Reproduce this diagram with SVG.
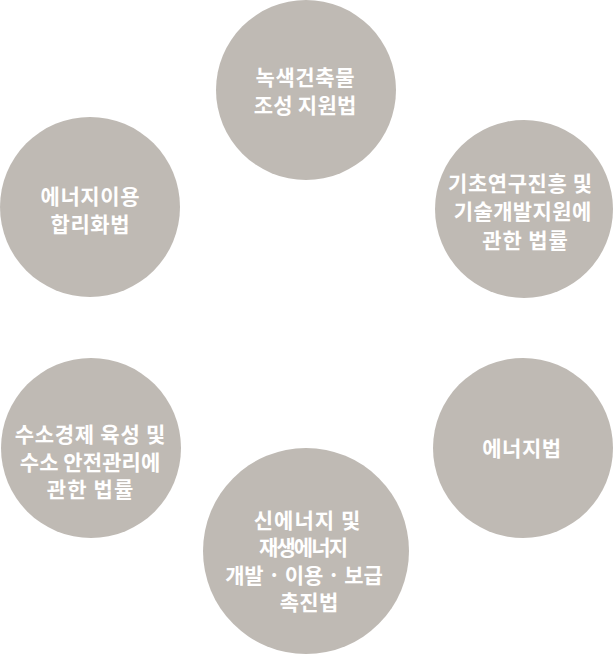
<svg xmlns="http://www.w3.org/2000/svg" width="613" height="655" viewBox="0 0 613 655">
<style>
.c{fill:#bfbab4}
.t{fill:#ffffff;font-family:"Noto Sans CJK KR","Noto Sans",sans-serif;font-weight:700;font-size:21px;text-anchor:middle}
</style>
<rect width="613" height="655" fill="#ffffff"/>
<g id="connectors"/>
<g id="node-top">
<circle class="c" cx="306" cy="90" r="90"/>
<text class="t" x="305" y="85" textLength="99" lengthAdjust="spacing">녹색건축물</text>
<text class="t" x="305" y="113" textLength="102.5" lengthAdjust="spacing">조성 지원법</text>
</g>
<g id="node-right-top">
<circle class="c" cx="524" cy="209" r="89"/>
<text class="t" x="520" y="191" textLength="144" lengthAdjust="spacing">기초연구진흥 및</text>
<text class="t" x="522.5" y="219" textLength="137.5" lengthAdjust="spacing">기술개발지원에</text>
<text class="t" x="525" y="247.5" textLength="85.5" lengthAdjust="spacing">관한 법률</text>
</g>
<g id="node-left-top">
<circle class="c" cx="90" cy="207" r="90"/>
<text class="t" x="90" y="204" textLength="99" lengthAdjust="spacing">에너지이용</text>
<text class="t" x="90" y="231.5" textLength="79" lengthAdjust="spacing">합리화법</text>
</g>
<g id="node-right-middle">
<circle class="c" cx="523" cy="448" r="90"/>
<text class="t" x="521.7" y="455.5" textLength="79" lengthAdjust="spacing">에너지법</text>
</g>
<g id="node-left-bottom">
<circle class="c" cx="91" cy="448" r="90"/>
<text class="t" x="90" y="442" textLength="150.5" lengthAdjust="spacing">수소경제 육성 및</text>
<text class="t" x="90" y="469.5" textLength="140.5" lengthAdjust="spacing">수소 안전관리에</text>
<text class="t" x="90" y="497" textLength="86.5" lengthAdjust="spacing">관한 법률</text>
</g>
<g id="node-bottom">
<circle class="c" cx="306" cy="551" r="103"/>
<text class="t" x="307" y="527.5" textLength="106.5" lengthAdjust="spacing">신에너지 및</text>
<text class="t" x="303.5" y="555" textLength="89" lengthAdjust="spacing">재생에너지</text>
<text class="t" x="304" y="582.5" textLength="157.5" lengthAdjust="spacing">개발 · 이용 · 보급</text>
<text class="t" x="309" y="610" textLength="58.5" lengthAdjust="spacing">촉진법</text>
</g>
</svg>
